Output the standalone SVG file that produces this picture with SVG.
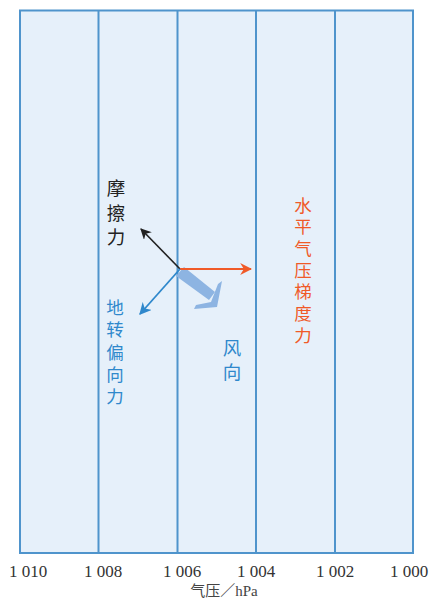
<svg xmlns="http://www.w3.org/2000/svg" width="432" height="600" viewBox="0 0 432 600">
<style>
.grid{stroke:#4f94cc;stroke-width:2;fill:none}
.tick{font-family:"Liberation Serif",serif;font-size:17px;fill:#333;text-anchor:middle}
.cjk{font-family:"Noto Sans CJK SC",sans-serif;font-size:18.5px;text-anchor:middle}
.cjs{font-family:"Noto Sans CJK SC",sans-serif;font-size:17.5px;text-anchor:middle}
</style>
<defs>
<marker id="hb" viewBox="0 0 10 10" refX="9" refY="5" markerWidth="11" markerHeight="11" orient="auto" markerUnits="userSpaceOnUse"><path d="M0,0 L10,5 L0,10 L3,5 Z" fill="#222"/></marker>
<marker id="ho" viewBox="0 0 10 10" refX="9" refY="5" markerWidth="12" markerHeight="12" orient="auto" markerUnits="userSpaceOnUse"><path d="M0,0 L10,5 L0,10 L3,5 Z" fill="#f05a28"/></marker>
<marker id="hl" viewBox="0 0 10 10" refX="9" refY="5" markerWidth="12" markerHeight="12" orient="auto" markerUnits="userSpaceOnUse"><path d="M0,0 L10,5 L0,10 L3,5 Z" fill="#2f88cc"/></marker>
</defs>
<rect x="0" y="0" width="432" height="600" fill="#fff"/>
<g id="panel">
<rect x="20" y="10.5" width="393" height="542.5" class="grid" style="fill:#e6f0fa"/>
<line x1="98.5" y1="10.5" x2="98.5" y2="553" class="grid"/>
<line x1="177.5" y1="10.5" x2="177.5" y2="553" class="grid"/>
<line x1="256" y1="10.5" x2="256" y2="553" class="grid"/>
<line x1="335" y1="10.5" x2="335" y2="553" class="grid"/>
</g>
<g id="wind">
<path d="M176,276 L184,267 L215,292 L209,300 Z" fill="#8db4e2"/>
<path d="M222,281 L217,307 L194,309 L196,305 L211,302 L218,284 Z" fill="#8db4e2"/>
</g>
<g id="connectors">
<line x1="180" y1="269" x2="141" y2="229" stroke="#222" stroke-width="1.6" marker-end="url(#hb)"/>
<line x1="180" y1="269" x2="251" y2="269" stroke="#f05a28" stroke-width="2" marker-end="url(#ho)"/>
<line x1="180" y1="269" x2="140" y2="314" stroke="#2f88cc" stroke-width="1.8" marker-end="url(#hl)"/>
</g>
<g id="ticks">
<text class="tick" x="28" y="577">1 010</text>
<text class="tick" x="103" y="577">1 008</text>
<text class="tick" x="182" y="577">1 006</text>
<text class="tick" x="256" y="577">1 004</text>
<text class="tick" x="335" y="577">1 002</text>
<text class="tick" x="409" y="577">1 000</text>
<text x="224" y="596" font-family="Liberation Serif,'Noto Sans CJK SC',serif" font-size="15" fill="#444" text-anchor="middle">气压／hPa</text>
</g>
<g id="friction">
<text class="cjk" fill="#222"><tspan x="116" y="195">摩</tspan><tspan x="116" y="220">擦</tspan><tspan x="116" y="244">力</tspan></text>
</g>
<g id="coriolis">
<text class="cjs" fill="#2f88cc"><tspan x="115" y="314">地</tspan><tspan x="115" y="336">转</tspan><tspan x="115" y="359">偏</tspan><tspan x="115" y="381">向</tspan><tspan x="115" y="403">力</tspan></text>
</g>
<g id="pressure">
<text class="cjs" fill="#f05a28"><tspan x="303" y="212">水</tspan><tspan x="303" y="233">平</tspan><tspan x="303" y="255">气</tspan><tspan x="303" y="277">压</tspan><tspan x="303" y="298">梯</tspan><tspan x="303" y="320">度</tspan><tspan x="303" y="342">力</tspan></text>
</g>
<g id="winddir">
<text class="cjk" fill="#2f88cc"><tspan x="232" y="355">风</tspan><tspan x="232" y="379">向</tspan></text>
</g>
</svg>
